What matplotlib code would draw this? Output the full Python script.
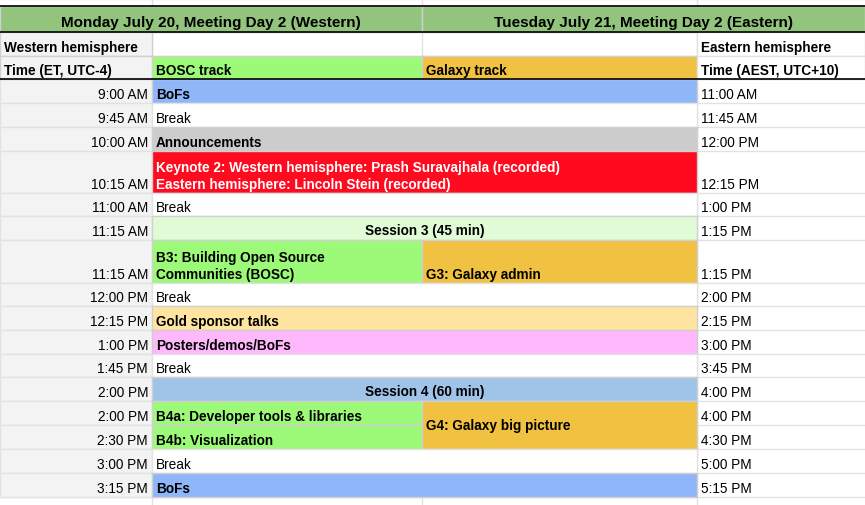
import matplotlib.pyplot as plt
from matplotlib.patches import Rectangle

plt.rcParams['font.family'] = ['Liberation Sans', 'DejaVu Sans']

col_x = [0, 152, 422, 697, 865]
row_h = [26, 24, 23, 24, 24, 24, 42, 23, 24, 43, 23, 24, 24, 23, 24, 24, 24, 24, 24]
top = 7

west_times = ["9:00 AM", "9:45 AM", "10:00 AM", "10:15 AM", "11:00 AM", "11:15 AM", "11:15 AM",
              "12:00 PM", "12:15 PM", "1:00 PM", "1:45 PM", "2:00 PM", "2:00 PM", "2:30 PM",
              "3:00 PM", "3:15 PM"]
east_times = ["11:00 AM", "11:45 AM", "12:00 PM", "12:15 PM", "1:00 PM", "1:15 PM", "1:15 PM",
              "2:00 PM", "2:15 PM", "3:00 PM", "3:45 PM", "4:00 PM", "4:00 PM", "4:30 PM",
              "5:00 PM", "5:15 PM"]

# (row, row_end, col_start, col_end, text, colour, bold, align)
cells = [
    (0, 0, 0, 2, "Monday July 20, Meeting Day 2 (Western)", "#93c47d", True, "center"),
    (0, 0, 2, 4, "Tuesday July 21, Meeting Day 2 (Eastern)", "#93c47d", True, "center"),
    (1, 1, 0, 1, "Western hemisphere", "#f3f3f3", True, "left"),
    (1, 1, 3, 4, "Eastern hemisphere", "#ffffff", True, "left"),
    (2, 2, 0, 1, "Time (ET, UTC-4)", "#f3f3f3", True, "left"),
    (2, 2, 1, 2, "BOSC track", "#9cfa78", True, "left"),
    (2, 2, 2, 3, "Galaxy track", "#f1c142", True, "left"),
    (2, 2, 3, 4, "Time (AEST, UTC+10)", "#ffffff", True, "left"),
    (3, 3, 1, 3, "BoFs", "#8fb6f8", True, "left"),
    (4, 4, 1, 3, "Break", "#ffffff", False, "left"),
    (5, 5, 1, 3, "Announcements", "#cccccc", True, "left"),
    (6, 6, 1, 3, "Keynote 2: Western hemisphere: Prash Suravajhala (recorded)\nEastern hemisphere: Lincoln Stein (recorded)", "#ff0a1e", True, "left"),
    (7, 7, 1, 3, "Break", "#ffffff", False, "left"),
    (8, 8, 1, 3, "Session 3 (45 min)", "#e1fbd7", True, "center"),
    (9, 9, 1, 2, "B3: Building Open Source\nCommunities (BOSC)", "#9cfa78", True, "left"),
    (9, 9, 2, 3, "G3: Galaxy admin", "#f1c142", True, "left"),
    (10, 10, 1, 3, "Break", "#ffffff", False, "left"),
    (11, 11, 1, 3, "Gold sponsor talks", "#ffe59f", True, "left"),
    (12, 12, 1, 3, "Posters/demos/BoFs", "#ffb8fc", True, "left"),
    (13, 13, 1, 3, "Break", "#ffffff", False, "left"),
    (14, 14, 1, 3, "Session 4 (60 min)", "#a0c4e8", True, "center"),
    (15, 15, 1, 2, "B4a: Developer tools & libraries", "#9cfa78", True, "left"),
    (16, 16, 1, 2, "B4b: Visualization", "#9cfa78", True, "left"),
    (15, 16, 2, 3, "G4: Galaxy big picture", "#f1c142", True, "center_left"),
    (17, 17, 1, 3, "Break", "#ffffff", False, "left"),
    (18, 18, 1, 3, "BoFs", "#8fb6f8", True, "left"),
]

row_y = [top]
for h in row_h:
    row_y.append(row_y[-1] + h)

fig = plt.figure(figsize=(8.65, 5.06), dpi=100)
ax = fig.add_axes([0, 0, 1, 1])
ax.set_xlim(0, 865)
ax.set_ylim(506, 0)
ax.axis("off")

# faint grid
for x in col_x[1:-1]:
    ax.plot([x, x], [0, 506], color="#e2e2e2", lw=1, zorder=0)
for y in row_y + [0]:
    ax.plot([0, 865], [y, y], color="#e2e2e2", lw=1, zorder=0)
for i in range(3, len(row_h)):
    ax.add_patch(Rectangle((0, row_y[i]), col_x[1], row_h[i], facecolor="#f3f3f3",
                           edgecolor="#e2e2e2", lw=1, zorder=1))

fs = 9.8
for i, t in enumerate(west_times):
    r = i + 3
    ax.text(col_x[1] - 4, row_y[r + 1] - 5, t, ha="right", va="baseline", fontsize=fs, zorder=4)
for i, t in enumerate(east_times):
    r = i + 3
    ax.text(col_x[3] + 4, row_y[r + 1] - 5, t, ha="left", va="baseline", fontsize=fs, zorder=4)

for r0, r1, c0, c1, text, colour, bold, align in cells:
    x0, x1 = col_x[c0], col_x[c1]
    y0, y1 = row_y[r0], row_y[r1 + 1]
    ax.add_patch(Rectangle((x0, y0), x1 - x0, y1 - y0, facecolor=colour,
                           edgecolor="#d0d0d0" if colour != "#ffffff" else "#e2e2e2", lw=1, zorder=2))
    size = 11 if r0 == 0 else fs
    colour_txt = "white" if colour == "#ff0a1e" else "black"
    weight = "bold" if bold else "normal"
    if align == "center":
        ax.text((x0 + x1) / 2, y1 - 6, text, ha="center", va="baseline", fontsize=size,
                fontweight=weight, color=colour_txt, zorder=4)
    elif align == "center_left":
        ax.text(x0 + 4, (y0 + y1) / 2, text, ha="left", va="center", fontsize=size,
                fontweight=weight, color=colour_txt, zorder=4)
    else:
        ax.text(x0 + 4, y1 - 5, text, ha="left", va="baseline", fontsize=size,
                fontweight=weight, color=colour_txt, zorder=4, linespacing=1.25)

# heavier lines under header rows
for y in (row_y[0], row_y[1], row_y[3]):
    ax.plot([0, 865], [y, y], color="black", lw=1.2, zorder=5)

fig.savefig("out.png", dpi=100)
